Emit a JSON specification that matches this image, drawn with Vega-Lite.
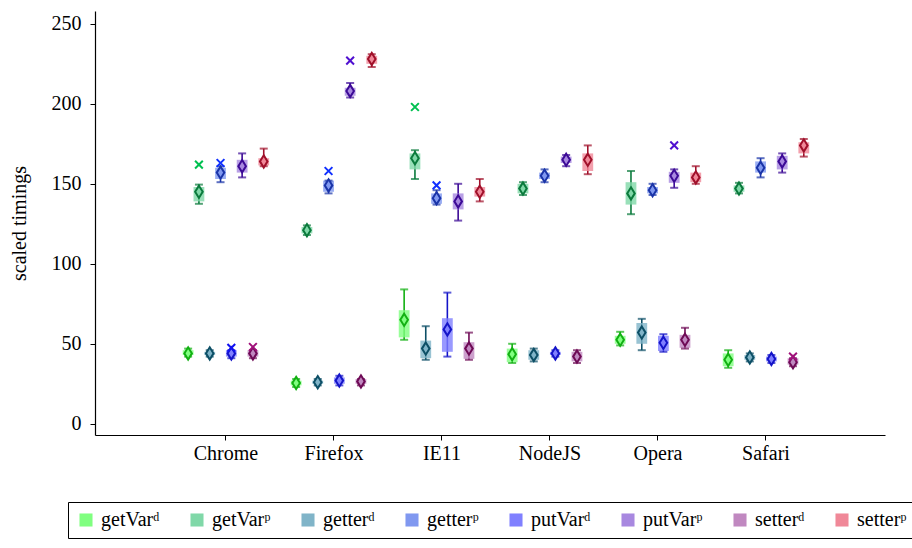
{
  "$schema": "https://vega.github.io/schema/vega-lite/v6.json",
  "width": 790,
  "height": 424,
  "autosize": {"type": "none"},
  "padding": {"left": 95, "top": 11, "right": 27, "bottom": 113},
  "background": "white",
  "config": {
    "view": {"stroke": null},
    "font": "Liberation Serif",
    "axis": {"grid": false, "domainColor": "black", "domainWidth": 1.2, "tickColor": "black", "tickWidth": 1, "labelColor": "black", "labelFont": "Liberation Serif", "titleFont": "Liberation Serif", "titleColor": "black", "titleFontWeight": "normal"},
    "legend": {"labelFont": "Liberation Serif", "labelColor": "black"}
  },
  "datasets": {
    "stats": [
      {"browser": "Chrome", "series": "getVarᵈ", "min": 42, "q1": 43, "med": 44, "q3": 46, "max": 47},
      {"browser": "Chrome", "series": "getVarᵖ", "min": 137.5, "q1": 139, "med": 145, "q3": 148, "max": 149.5},
      {"browser": "Chrome", "series": "getterᵈ", "min": 42, "q1": 43, "med": 44, "q3": 45, "max": 46},
      {"browser": "Chrome", "series": "getterᵖ", "min": 151, "q1": 153, "med": 157, "q3": 160, "max": 161},
      {"browser": "Chrome", "series": "putVarᵈ", "min": 41, "q1": 42, "med": 44, "q3": 46, "max": 46},
      {"browser": "Chrome", "series": "putVarᵖ", "min": 154, "q1": 157, "med": 161, "q3": 165, "max": 169},
      {"browser": "Chrome", "series": "setterᵈ", "min": 41, "q1": 42, "med": 44, "q3": 46, "max": 46},
      {"browser": "Chrome", "series": "setterᵖ", "min": 161, "q1": 161.5, "med": 164, "q3": 166, "max": 172},
      {"browser": "Firefox", "series": "getVarᵈ", "min": 23, "q1": 24, "med": 25.5, "q3": 27, "max": 28},
      {"browser": "Firefox", "series": "getVarᵖ", "min": 118, "q1": 119, "med": 121, "q3": 123, "max": 124},
      {"browser": "Firefox", "series": "getterᵈ", "min": 24, "q1": 25, "med": 26, "q3": 27, "max": 28},
      {"browser": "Firefox", "series": "getterᵖ", "min": 144, "q1": 145, "med": 149, "q3": 152, "max": 152},
      {"browser": "Firefox", "series": "putVarᵈ", "min": 24, "q1": 25, "med": 27, "q3": 29, "max": 30},
      {"browser": "Firefox", "series": "putVarᵖ", "min": 204, "q1": 205, "med": 208, "q3": 210, "max": 213},
      {"browser": "Firefox", "series": "setterᵈ", "min": 24, "q1": 25, "med": 26.5, "q3": 28, "max": 28},
      {"browser": "Firefox", "series": "setterᵖ", "min": 223, "q1": 225, "med": 228, "q3": 230, "max": 231},
      {"browser": "IE11", "series": "getVarᵈ", "min": 52.5, "q1": 54, "med": 65, "q3": 71, "max": 84},
      {"browser": "IE11", "series": "getVarᵖ", "min": 153, "q1": 159, "med": 166, "q3": 169, "max": 171},
      {"browser": "IE11", "series": "getterᵈ", "min": 40, "q1": 41, "med": 47, "q3": 52, "max": 61},
      {"browser": "IE11", "series": "getterᵖ", "min": 137, "q1": 137.5, "med": 141, "q3": 144, "max": 146},
      {"browser": "IE11", "series": "putVarᵈ", "min": 42, "q1": 45, "med": 59, "q3": 66, "max": 82},
      {"browser": "IE11", "series": "putVarᵖ", "min": 127, "q1": 134, "med": 139, "q3": 144, "max": 150},
      {"browser": "IE11", "series": "setterᵈ", "min": 40, "q1": 40.6, "med": 47, "q3": 51, "max": 57},
      {"browser": "IE11", "series": "setterᵖ", "min": 139, "q1": 142, "med": 145, "q3": 148, "max": 153},
      {"browser": "NodeJS", "series": "getVarᵈ", "min": 38, "q1": 38.5, "med": 43.5, "q3": 47, "max": 50},
      {"browser": "NodeJS", "series": "getVarᵖ", "min": 143, "q1": 144, "med": 147, "q3": 150, "max": 151},
      {"browser": "NodeJS", "series": "getterᵈ", "min": 39, "q1": 40, "med": 43, "q3": 46, "max": 47},
      {"browser": "NodeJS", "series": "getterᵖ", "min": 151, "q1": 153, "med": 155, "q3": 157, "max": 159},
      {"browser": "NodeJS", "series": "putVarᵈ", "min": 42, "q1": 43, "med": 44, "q3": 45, "max": 46},
      {"browser": "NodeJS", "series": "putVarᵖ", "min": 161, "q1": 163, "med": 165, "q3": 167, "max": 168},
      {"browser": "NodeJS", "series": "setterᵈ", "min": 38, "q1": 39, "med": 42, "q3": 45, "max": 46},
      {"browser": "NodeJS", "series": "setterᵖ", "min": 156, "q1": 158, "med": 165, "q3": 169, "max": 174},
      {"browser": "Opera", "series": "getVarᵈ", "min": 49, "q1": 50, "med": 52.5, "q3": 55, "max": 57.5},
      {"browser": "Opera", "series": "getVarᵖ", "min": 131, "q1": 137, "med": 144, "q3": 151, "max": 158},
      {"browser": "Opera", "series": "getterᵈ", "min": 46, "q1": 50, "med": 57, "q3": 63, "max": 65.6},
      {"browser": "Opera", "series": "getterᵖ", "min": 143, "q1": 144, "med": 146, "q3": 148, "max": 150},
      {"browser": "Opera", "series": "putVarᵈ", "min": 45, "q1": 45.5, "med": 50.6, "q3": 55, "max": 56},
      {"browser": "Opera", "series": "putVarᵖ", "min": 147.5, "q1": 150.6, "med": 155, "q3": 157.5, "max": 159},
      {"browser": "Opera", "series": "setterᵈ", "min": 47, "q1": 47.5, "med": 52.5, "q3": 55.6, "max": 60},
      {"browser": "Opera", "series": "setterᵖ", "min": 150, "q1": 151, "med": 154, "q3": 157, "max": 161},
      {"browser": "Safari", "series": "getVarᵈ", "min": 35, "q1": 36, "med": 40, "q3": 44, "max": 46},
      {"browser": "Safari", "series": "getVarᵖ", "min": 144, "q1": 145, "med": 147, "q3": 149, "max": 150.6},
      {"browser": "Safari", "series": "getterᵈ", "min": 39, "q1": 40, "med": 41.5, "q3": 43, "max": 44},
      {"browser": "Safari", "series": "getterᵖ", "min": 154, "q1": 157, "med": 160, "q3": 164, "max": 166},
      {"browser": "Safari", "series": "putVarᵈ", "min": 38, "q1": 39, "med": 40.5, "q3": 42, "max": 43},
      {"browser": "Safari", "series": "putVarᵖ", "min": 157, "q1": 159, "med": 164, "q3": 167.5, "max": 169},
      {"browser": "Safari", "series": "setterᵈ", "min": 36, "q1": 37, "med": 38.5, "q3": 41, "max": 41},
      {"browser": "Safari", "series": "setterᵖ", "min": 167, "q1": 169, "med": 174, "q3": 176, "max": 178}
    ],
    "outliers": [
      {"browser": "Chrome", "series": "getVarᵖ", "value": 162},
      {"browser": "Chrome", "series": "getterᵖ", "value": 163},
      {"browser": "Chrome", "series": "putVarᵈ", "value": 47.5},
      {"browser": "Chrome", "series": "setterᵈ", "value": 48},
      {"browser": "Firefox", "series": "getterᵖ", "value": 158},
      {"browser": "Firefox", "series": "putVarᵖ", "value": 227},
      {"browser": "IE11", "series": "getVarᵖ", "value": 198},
      {"browser": "IE11", "series": "getterᵖ", "value": 149},
      {"browser": "Opera", "series": "putVarᵖ", "value": 174},
      {"browser": "Safari", "series": "setterᵈ", "value": 42}
    ]
  },
  "encoding": {
    "x": {"field": "browser", "type": "nominal", "sort": ["Chrome", "Firefox", "IE11", "NodeJS", "Opera", "Safari"],
      "scale": {"paddingInner": 0, "paddingOuter": 0.657, "align": 0.542},
      "axis": {"title": null, "labelAngle": 0, "labelFontSize": 20, "tickSize": 5, "labelPadding": 3}},
    "xOffset": {"field": "series", "type": "nominal",
      "scale": {"domain": ["getVarᵈ", "getVarᵖ", "getterᵈ", "getterᵖ", "putVarᵈ", "putVarᵖ", "setterᵈ", "setterᵖ"], "paddingInner": 0, "paddingOuter": 1.4}}
  },
  "layer": [
    {
      "data": {"name": "stats"},
      "mark": {"type": "rule", "strokeWidth": 1.6},
      "encoding": {
        "y": {"field": "min", "type": "quantitative", "scale": {"domain": [-7, 258], "nice": false, "zero": false},
          "axis": {"values": [0, 50, 100, 150, 200, 250], "title": "scaled timings", "titleFontSize": 20, "labelFontSize": 20, "tickSize": 5, "labelPadding": 9, "titlePadding": 22}},
        "y2": {"field": "max"},
        "color": {"field": "series", "type": "nominal", "legend": null,
          "scale": {"domain": ["getVarᵈ", "getVarᵖ", "getterᵈ", "getterᵖ", "putVarᵈ", "putVarᵖ", "setterᵈ", "setterᵖ"],
            "range": ["#12b012", "#0a7a3c", "#0d4f66", "#1a34a8", "#1414c8", "#3c0a96", "#6e0a55", "#a0102a"]}}
      }
    },
    {
      "data": {"name": "stats"},
      "mark": {"type": "bar", "opacity": 0.8},
      "encoding": {
        "y": {"field": "q1", "type": "quantitative"},
        "y2": {"field": "q3"},
        "color": {"field": "series", "type": "nominal",
          "scale": {"domain": ["getVarᵈ", "getVarᵖ", "getterᵈ", "getterᵖ", "putVarᵈ", "putVarᵖ", "setterᵈ", "setterᵖ"],
            "range": ["#80ff80", "#80d8a8", "#80b4c8", "#8098f0", "#8080ff", "#a888e0", "#c088c0", "#f08898"]},
          "legend": {"title": null, "orient": "none", "legendX": -27, "legendY": 491, "direction": "horizontal", "columns": 8,
            "strokeColor": "black", "fillColor": "white", "padding": 8,
            "symbolType": "square", "symbolSize": 170, "symbolStrokeWidth": 0, "symbolOpacity": 1,
            "labelFontSize": 20, "labelOffset": 5, "columnPadding": 27}}
      }
    },
    {
      "data": {"name": "stats"},
      "mark": {"type": "tick", "thickness": 2, "size": 8},
      "encoding": {
        "y": {"field": "max", "type": "quantitative"},
        "color": {"field": "series", "type": "nominal", "legend": null,
          "scale": {"domain": ["getVarᵈ", "getVarᵖ", "getterᵈ", "getterᵖ", "putVarᵈ", "putVarᵖ", "setterᵈ", "setterᵖ"],
            "range": ["#12b012", "#0a7a3c", "#0d4f66", "#1a34a8", "#1414c8", "#3c0a96", "#6e0a55", "#a0102a"]}}
      }
    },
    {
      "data": {"name": "stats"},
      "mark": {"type": "tick", "thickness": 2, "size": 8},
      "encoding": {
        "y": {"field": "min", "type": "quantitative"},
        "color": {"field": "series", "type": "nominal", "legend": null,
          "scale": {"domain": ["getVarᵈ", "getVarᵖ", "getterᵈ", "getterᵖ", "putVarᵈ", "putVarᵖ", "setterᵈ", "setterᵖ"],
            "range": ["#12b012", "#0a7a3c", "#0d4f66", "#1a34a8", "#1414c8", "#3c0a96", "#6e0a55", "#a0102a"]}}
      }
    },
    {
      "data": {"name": "stats"},
      "mark": {"type": "point", "shape": "M0,-1L0.62,0L0,1L-0.62,0Z", "size": 150, "filled": true, "strokeWidth": 2, "opacity": 1},
      "encoding": {
        "y": {"field": "med", "type": "quantitative"},
        "fill": {"field": "series", "type": "nominal", "legend": null,
          "scale": {"domain": ["getVarᵈ", "getVarᵖ", "getterᵈ", "getterᵖ", "putVarᵈ", "putVarᵖ", "setterᵈ", "setterᵖ"],
            "range": ["#80ff80", "#80d8a8", "#80b4c8", "#8098f0", "#8080ff", "#a888e0", "#c088c0", "#f08898"]}},
        "stroke": {"field": "series", "type": "nominal", "legend": null,
          "scale": {"domain": ["getVarᵈ", "getVarᵖ", "getterᵈ", "getterᵖ", "putVarᵈ", "putVarᵖ", "setterᵈ", "setterᵖ"],
            "range": ["#12b012", "#0a7a3c", "#0d4f66", "#1a34a8", "#1414c8", "#3c0a96", "#6e0a55", "#a0102a"]}}
      }
    },
    {
      "data": {"name": "outliers"},
      "mark": {"type": "point", "shape": "M-1,-1L1,1M-1,1L1,-1", "size": 60, "filled": false, "strokeWidth": 2, "opacity": 1},
      "encoding": {
        "y": {"field": "value", "type": "quantitative"},
        "color": {"field": "series", "type": "nominal", "legend": null,
          "scale": {"domain": ["getVarᵈ", "getVarᵖ", "getterᵈ", "getterᵖ", "putVarᵈ", "putVarᵖ", "setterᵈ", "setterᵖ"],
            "range": ["#10c010", "#00c050", "#106080", "#1030ff", "#1010f0", "#5010d0", "#a0107a", "#d01030"]}}
      }
    }
  ],
  "resolve": {"scale": {"color": "independent"}}
}
